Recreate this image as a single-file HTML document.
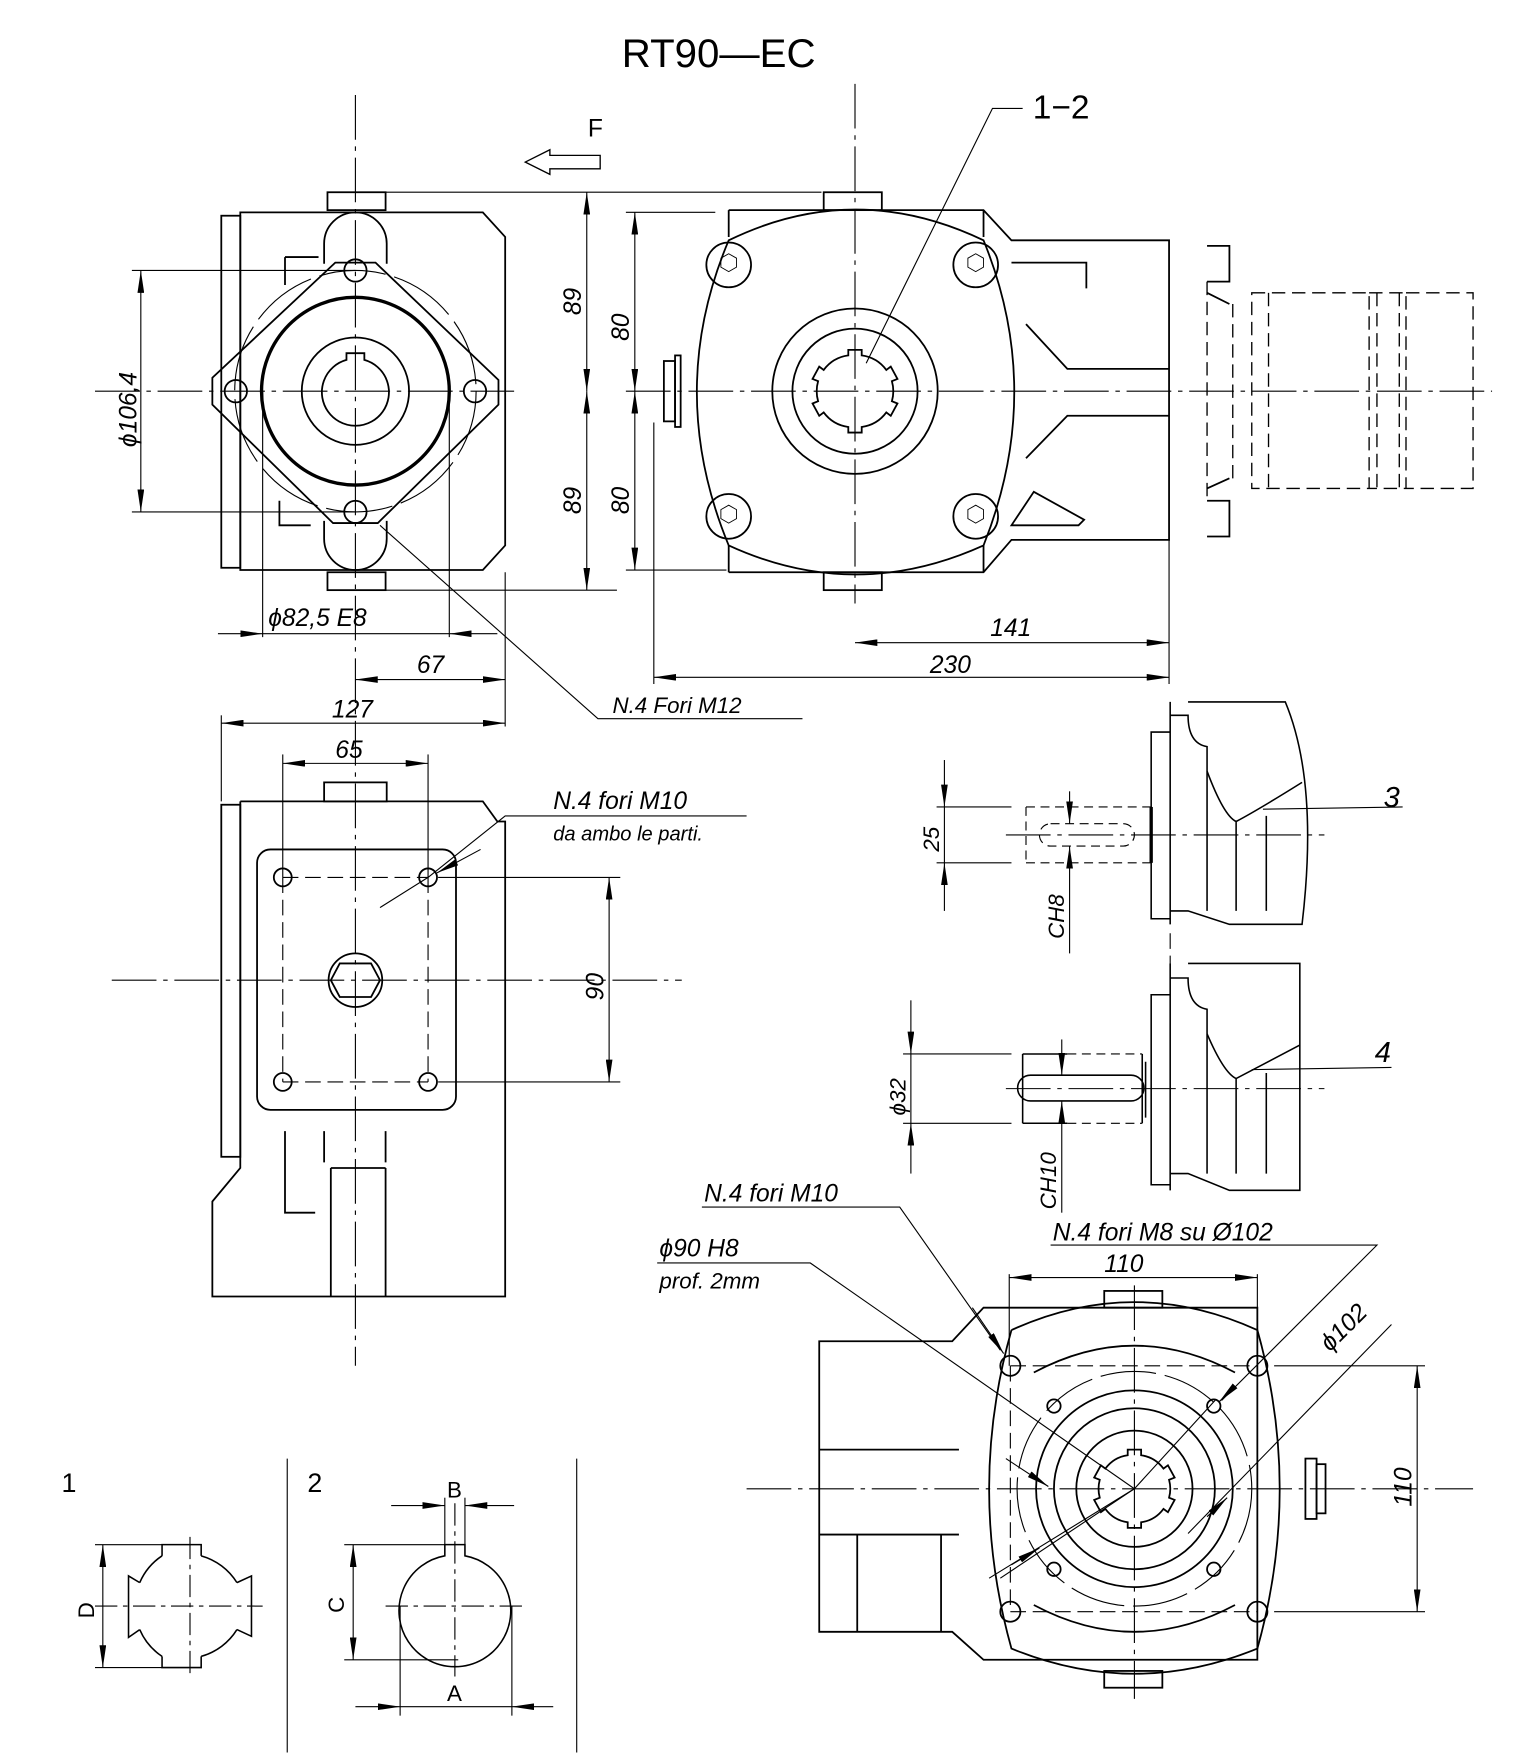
<!DOCTYPE html>
<html><head><meta charset="utf-8"><style>
html,body{margin:0;padding:0;background:#fff}
svg{display:block}
text{font-family:"Liberation Sans",sans-serif;fill:#000;font-style:italic}
</style></head><body>
<svg width="1520" height="1757" viewBox="0 0 1360 1572" preserveAspectRatio="none" xmlns="http://www.w3.org/2000/svg">
<defs>
<marker id="a" viewBox="0 0 20 6" refX="20" refY="3" markerWidth="20" markerHeight="6" orient="auto-start-reverse" markerUnits="userSpaceOnUse"><path d="M0,0 L20,3 L0,6 Z" fill="#000"/></marker>
</defs>
<g fill="none" stroke="#000" stroke-width="1">
<text x="643" y="60" font-size="36" text-anchor="middle" style="font-style:normal" stroke="none">RT90—EC</text>
<path d="M470,145 L492,134 L492,139 L537,139 L537,151 L492,151 L492,156 Z" stroke-width="1.2"/>
<text x="526" y="122" font-size="22" style="font-style:normal" stroke="none">F</text>

<!-- ===== LEFT TOP VIEW ===== -->
<line x1="318" y1="85" x2="318" y2="1222" stroke-dasharray="40,6,4,6"/>
<line x1="85" y1="350" x2="460" y2="350" stroke-dasharray="40,6,4,6"/>
<g stroke-width="1.6">
<rect x="198" y="193" width="17" height="315"/>
<path d="M215,190 L432,190 L452,212 L452,488 L432,510 L215,510 Z"/>
<rect x="293" y="172" width="52" height="16"/>
<rect x="293" y="512" width="52" height="16"/>
<path d="M290,236 L290,218 A28,28 0 0 1 346,218 L346,236"/>
<path d="M290,466 L290,482 A28,28 0 0 0 346,482 L346,466"/>
<path d="M300,235 L336,235 L446,340 L446,362 L338,468 L298,468 L190,362 L190,338 Z"/>
<path d="M255,230 L285,230 M255,230 L255,255 M250,448 L250,470 L278,470"/>
<circle cx="318" cy="350" r="84" stroke-width="3"/>
<circle cx="318" cy="350" r="48"/>
<path d="M310,316 L310,322 A30,30 0 1 0 326,322 L326,316 Z"/>
<circle cx="318" cy="242" r="10"/><circle cx="318" cy="458" r="10"/>
<circle cx="211" cy="350" r="10"/><circle cx="425" cy="350" r="10"/>
</g>
<circle cx="318" cy="350" r="108" stroke-dasharray="60,8"/>
<line x1="118" y1="242" x2="318" y2="242"/><line x1="118" y1="458" x2="318" y2="458"/>
<line x1="126" y1="242" x2="126" y2="458" marker-start="url(#a)" marker-end="url(#a)"/>
<text transform="translate(122,400) rotate(-90)" font-size="22" stroke="none">ϕ106,4</text>
<line x1="345" y1="172" x2="735" y2="172"/><line x1="345" y1="528" x2="552" y2="528"/>
<line x1="525" y1="172" x2="525" y2="350" marker-start="url(#a)" marker-end="url(#a)"/>
<line x1="525" y1="350" x2="525" y2="528" marker-start="url(#a)" marker-end="url(#a)"/>
<text transform="translate(520,282) rotate(-90)" font-size="22" stroke="none">89</text>
<text transform="translate(520,460) rotate(-90)" font-size="22" stroke="none">89</text>
<line x1="560" y1="190" x2="640" y2="190"/><line x1="560" y1="510" x2="650" y2="510"/>
<line x1="568" y1="190" x2="568" y2="350" marker-start="url(#a)" marker-end="url(#a)"/>
<line x1="568" y1="350" x2="568" y2="510" marker-start="url(#a)" marker-end="url(#a)"/>
<text transform="translate(563,305) rotate(-90)" font-size="22" stroke="none">80</text>
<text transform="translate(563,460) rotate(-90)" font-size="22" stroke="none">80</text>
<line x1="235" y1="350" x2="235" y2="570"/><line x1="402" y1="350" x2="402" y2="570"/>
<line x1="195" y1="567" x2="235" y2="567" marker-end="url(#a)"/>
<line x1="445" y1="567" x2="402" y2="567" marker-end="url(#a)"/>
<line x1="235" y1="567" x2="402" y2="567"/>
<text x="240" y="560" font-size="22" stroke="none">ϕ82,5  E8</text>
<line x1="452" y1="512" x2="452" y2="650"/>
<line x1="318" y1="608" x2="452" y2="608" marker-start="url(#a)" marker-end="url(#a)"/>
<text x="373" y="602" font-size="22" stroke="none">67</text>
<path d="M340,470 L535,643 L718,643"/>
<text x="548" y="638" font-size="20" stroke="none">N.4  Fori  M12</text>

<!-- ===== RIGHT TOP VIEW ===== -->
<line x1="765" y1="75" x2="765" y2="540" stroke-dasharray="40,6,4,6"/>
<line x1="560" y1="350" x2="1335" y2="350" stroke-dasharray="40,6,4,6"/>
<g stroke-width="1.6">
<rect x="737" y="172" width="52" height="16"/>
<rect x="737" y="512" width="52" height="16"/>
<path d="M652,188 L880,188 L905,215 L1046,215 L1046,483 L905,483 L880,512 L652,512"/>
<path d="M652,188 L652,212 M880,188 L880,212 M652,512 L652,488 M880,512 L880,488"/>
<path d="M652,215 Q765,160 880,215 Q935,350 880,488 Q765,540 652,488 Q595,350 652,215 Z"/>
<path d="M905,235 L972,235 L972,258"/>
<path d="M918,290 L955,330 L1046,330 M918,410 L955,372 L1046,372"/>
<path d="M905,470 L925,440 L970,465 L965,470 Z"/>
<rect x="594" y="323" width="10" height="54"/><rect x="604" y="318" width="5" height="64"/>
<circle cx="652" cy="237" r="20"/><circle cx="873" cy="237" r="20"/>
<circle cx="652" cy="462" r="20"/><circle cx="873" cy="462" r="20"/>
<circle cx="765" cy="350" r="74"/><circle cx="765" cy="350" r="56"/>
<path d="M759,313 L771,313 L771,318 A33,33 0 0 1 793,331 L797,328 L803,339 L798,341 A33,33 0 0 1 798,359 L803,361 L797,372 L793,369 A33,33 0 0 1 771,382 L771,387 L759,387 L759,382 A33,33 0 0 1 737,369 L733,372 L727,361 L732,359 A33,33 0 0 1 732,341 L727,339 L733,328 L737,331 A33,33 0 0 1 759,318 Z"/>
<path d="M1080,220 L1100,220 L1100,252 L1080,252 M1080,448 L1100,448 L1100,480 L1080,480 M1080,262 L1100,272 M1080,437 L1100,428"/>
</g>
<g stroke-width="0.8">
<path d="M645,231 l7,-4 l7,4 l0,8 l-7,4 l-7,-4 Z M866,231 l7,-4 l7,4 l0,8 l-7,4 l-7,-4 Z M645,456 l7,-4 l7,4 l0,8 l-7,4 l-7,-4 Z M866,456 l7,-4 l7,4 l0,8 l-7,4 l-7,-4 Z"/>
</g>
<g stroke-dasharray="12,6" stroke-width="1.2">
<path d="M1080,252 L1080,448 M1103,272 L1103,428 M1120,262 L1225,262 L1225,437 L1120,437 Z M1135,262 L1135,437 M1225,262 L1258,262 L1258,437 L1225,437 M1258,262 L1318,262 L1318,437 L1258,437 M1232,262 L1232,437 M1252,262 L1252,437"/>
</g>
<path d="M775,325 L888,97 L915,97"/>
<text x="924" y="106" font-size="30" style="font-style:normal" stroke="none">1−2</text>
<line x1="1046" y1="483" x2="1046" y2="612"/>
<line x1="585" y1="378" x2="585" y2="612"/>
<line x1="765" y1="575" x2="1046" y2="575" marker-start="url(#a)" marker-end="url(#a)"/>
<text x="886" y="569" font-size="22" stroke="none">141</text>
<line x1="585" y1="606" x2="1046" y2="606" marker-start="url(#a)" marker-end="url(#a)"/>
<text x="832" y="602" font-size="22" stroke="none">230</text>

<!-- ===== SIDE VIEW ===== -->
<line x1="100" y1="877" x2="610" y2="877" stroke-dasharray="40,6,4,6"/>
<g stroke-width="1.6">
<rect x="198" y="720" width="17" height="315"/>
<path d="M215,717 L432,717 L445,735 L452,735 L452,1160 L190,1160 L190,1075 L215,1045 L215,717"/>
<rect x="290" y="700" width="56" height="17"/>
<rect x="230" y="760" width="178" height="233" rx="12"/>
<circle cx="253" cy="785" r="8"/><circle cx="383" cy="785" r="8"/>
<circle cx="253" cy="968" r="8"/><circle cx="383" cy="968" r="8"/>
<circle cx="318" cy="877" r="24"/>
<path d="M304,862 L332,862 L340,877 L332,892 L304,892 L296,877 Z"/>
<path d="M255,1012 L255,1085 L282,1085 M290,1012 L290,1040 M345,1012 L345,1040"/>
<path d="M296,1045 L296,1160 M345,1045 L345,1160 M296,1045 L345,1045"/>
</g>
<path d="M253,785 L253,968 M383,785 L383,968 M253,785 L383,785 M253,968 L383,968" stroke-dasharray="14,6"/>
<line x1="198" y1="640" x2="198" y2="717"/><line x1="253" y1="675" x2="253" y2="785"/><line x1="383" y1="675" x2="383" y2="785"/>
<line x1="198" y1="647" x2="452" y2="647" marker-start="url(#a)" marker-end="url(#a)"/>
<text x="297" y="642" font-size="22" stroke="none">127</text>
<line x1="253" y1="683" x2="383" y2="683" marker-start="url(#a)" marker-end="url(#a)"/>
<text x="300" y="678" font-size="22" stroke="none">65</text>
<line x1="392" y1="785" x2="555" y2="785"/><line x1="392" y1="968" x2="555" y2="968"/>
<line x1="545" y1="785" x2="545" y2="968" marker-start="url(#a)" marker-end="url(#a)"/>
<text transform="translate(540,895) rotate(-90)" font-size="22" stroke="none">90</text>
<path d="M340,812 L383,785 M383,785 L452,730 L668,730" />
<line x1="430" y1="760" x2="391" y2="781" marker-end="url(#a)"/>
<text x="495" y="724" font-size="22" stroke="none">N.4  fori  M10</text>
<text x="495" y="752" font-size="18" stroke="none">da  ambo  le  parti.</text>

<!-- ===== SHAFT 3 ===== -->
<g stroke-width="1.4">
<path d="M1047,628 L1047,827 M1047,655 L1030,655 L1030,822 L1047,822" />
<path d="M1063,628 L1150,628 Q1180,700 1165,827 L1100,827 L1063,815 L1047,815 M1047,640 L1063,640 Q1063,665 1080,668 L1080,815"/>
<path d="M1080,690 Q1095,730 1106,735 Q1125,725 1165,700 M1106,735 L1106,815 M1133,730 L1133,815"/>
</g>
<path d="M918,722 L1030,722 M918,772 L1030,772 M918,722 L918,772 M940,737 L1005,737 A10,10 0 0 1 1005,757 L940,757 A10,10 0 0 1 940,737" stroke-dasharray="8,5"/>
<line x1="1030" y1="722" x2="1030" y2="772" stroke-width="3"/>
<line x1="838" y1="722" x2="905" y2="722"/><line x1="838" y1="772" x2="905" y2="772"/>
<line x1="845" y1="680" x2="845" y2="722" marker-end="url(#a)"/>
<line x1="845" y1="815" x2="845" y2="772" marker-end="url(#a)"/>
<line x1="845" y1="722" x2="845" y2="772"/>
<text transform="translate(840,762) rotate(-90)" font-size="20" stroke="none">25</text>
<line x1="957" y1="708" x2="957" y2="737" marker-end="url(#a)"/>
<line x1="957" y1="853" x2="957" y2="757" marker-end="url(#a)"/>
<text transform="translate(952,840) rotate(-90)" font-size="20" stroke="none">CH8</text>
<line x1="900" y1="747" x2="1185" y2="747" stroke-dasharray="40,6,4,6"/>
<line x1="1130" y1="724" x2="1255" y2="722"/>
<text x="1238" y="722" font-size="26" stroke="none">3</text>
<line x1="1047" y1="835" x2="1047" y2="862" stroke-dasharray="14,6"/>

<!-- ===== SHAFT 4 ===== -->
<g stroke-width="1.4">
<path d="M1047,862 L1047,1065 M1047,890 L1030,890 L1030,1060 L1047,1060" />
<path d="M1063,862 L1163,862 L1163,1065 L1100,1065 L1063,1050 L1047,1050 M1047,875 L1063,875 Q1063,900 1080,903 L1080,1050"/>
<path d="M1080,925 Q1095,960 1106,965 Q1125,955 1163,935 M1106,965 L1106,1050 M1133,960 L1133,1050"/>
<path d="M915,943 L955,943 M915,1005 L955,1005 M915,943 L915,1005 M922,962 L1012,962 A11,11 0 0 1 1012,985 L922,985 A11,11 0 0 1 922,962"/>
<path d="M1022,943 L1022,1005 M1025,950 L1025,1000"/>
</g>
<path d="M955,943 L1022,943 M955,1005 L1022,1005" stroke-dasharray="8,5"/>
<line x1="808" y1="943" x2="905" y2="943"/><line x1="808" y1="1005" x2="905" y2="1005"/>
<line x1="815" y1="895" x2="815" y2="943" marker-end="url(#a)"/>
<line x1="815" y1="1050" x2="815" y2="1005" marker-end="url(#a)"/>
<line x1="815" y1="943" x2="815" y2="1005"/>
<text transform="translate(810,998) rotate(-90)" font-size="20" stroke="none">ϕ32</text>
<line x1="950" y1="930" x2="950" y2="962" marker-end="url(#a)"/>
<line x1="950" y1="1085" x2="950" y2="985" marker-end="url(#a)"/>
<text transform="translate(945,1082) rotate(-90)" font-size="20" stroke="none">CH10</text>
<line x1="900" y1="974" x2="1185" y2="974" stroke-dasharray="40,6,4,6"/>
<line x1="1120" y1="957" x2="1245" y2="955"/>
<text x="1230" y="950" font-size="26" stroke="none">4</text>

<!-- ===== BOTTOM RIGHT VIEW ===== -->
<line x1="1015" y1="1150" x2="1015" y2="1520" stroke-dasharray="40,6,4,6"/>
<line x1="668" y1="1332" x2="1318" y2="1332" stroke-dasharray="40,6,4,6"/>
<g stroke-width="1.6">
<path d="M733,1200 L852,1200 L880,1170 L1125,1170 L1125,1485 L880,1485 L852,1460 L733,1460 Z"/>
<path d="M733,1297 L858,1297 M733,1373 L858,1373 M767,1373 L767,1460 M842,1373 L842,1460"/>
<path d="M905,1190 Q1015,1140 1125,1190 Q1165,1332 1125,1475 Q1015,1520 905,1475 Q865,1332 905,1190"/>
<path d="M925,1228 Q1015,1180 1105,1228 M925,1436 Q1015,1484 1105,1436"/>
<rect x="988" y="1155" width="52" height="15"/><rect x="988" y="1495" width="52" height="15"/>
<rect x="1168" y="1305" width="10" height="54"/><rect x="1178" y="1310" width="8" height="44"/>
<circle cx="1015" cy="1332" r="88"/><circle cx="1015" cy="1332" r="72"/><circle cx="1015" cy="1332" r="52"/>
<path d="M1009,1297 L1021,1297 L1021,1302 A30,30 0 0 1 1041,1314 L1045,1311 L1051,1322 L1046,1324 A30,30 0 0 1 1046,1340 L1051,1342 L1045,1353 L1041,1350 A30,30 0 0 1 1021,1362 L1021,1367 L1009,1367 L1009,1362 A30,30 0 0 1 989,1350 L985,1353 L979,1342 L984,1340 A30,30 0 0 1 984,1324 L979,1322 L985,1311 L989,1314 A30,30 0 0 1 1009,1302 Z"/>
<circle cx="904" cy="1222" r="9"/><circle cx="1125" cy="1222" r="9"/>
<circle cx="904" cy="1442" r="9"/><circle cx="1125" cy="1442" r="9"/>
<circle cx="943" cy="1258" r="6"/><circle cx="1086" cy="1258" r="6"/>
<circle cx="943" cy="1404" r="6"/><circle cx="1086" cy="1404" r="6"/>
</g>
<circle cx="1015" cy="1332" r="105" stroke-dasharray="50,8"/>
<path d="M904,1222 L1125,1222 M904,1442 L1125,1442 M904,1222 L904,1442 M1125,1222 L1125,1442" stroke-dasharray="14,6"/>
<line x1="903" y1="1140" x2="903" y2="1222"/><line x1="1125" y1="1140" x2="1125" y2="1222"/>
<line x1="903" y1="1143" x2="1125" y2="1143" marker-start="url(#a)" marker-end="url(#a)"/>
<text x="988" y="1138" font-size="22" stroke="none">110</text>
<line x1="1140" y1="1222" x2="1275" y2="1222"/><line x1="1140" y1="1442" x2="1275" y2="1442"/>
<line x1="1268" y1="1222" x2="1268" y2="1442" marker-start="url(#a)" marker-end="url(#a)"/>
<text transform="translate(1263,1348) rotate(-90)" font-size="22" stroke="none">110</text>
<path d="M628,1080 L805,1080 L895,1208" />
<line x1="870" y1="1170" x2="898" y2="1211" marker-end="url(#a)"/>
<text x="630" y="1075" font-size="22" stroke="none">N.4  fori  M10</text>
<path d="M588,1130 L725,1130 L1015,1332 L895,1412"/>
<line x1="900" y1="1305" x2="938" y2="1330" marker-end="url(#a)"/>
<line x1="1015" y1="1332" x2="1088" y2="1252"/>
<text x="590" y="1124" font-size="22" stroke="none">ϕ90   H8</text>
<text x="590" y="1153" font-size="20" stroke="none">prof.  2mm</text>
<path d="M940,1114 L1232,1114 L1093,1253"/>
<line x1="1105" y1="1240" x2="1091" y2="1254" marker-end="url(#a)"/>
<text x="942" y="1110" font-size="22" stroke="none">N.4  fori  M8  su  Ø102</text>
<path d="M1245,1185 L1063,1372 M1015,1332 L885,1412"/>
<line x1="1080" y1="1357" x2="1098" y2="1340" marker-end="url(#a)"/>
<line x1="905" y1="1400" x2="930" y2="1385" marker-end="url(#a)"/>
<text transform="translate(1190,1210) rotate(-45)" font-size="22" stroke="none">ϕ102</text>

<!-- ===== DETAILS 1 & 2 ===== -->
<text x="55" y="1335" font-size="24" style="font-style:normal" stroke="none">1</text>
<text x="275" y="1335" font-size="24" style="font-style:normal" stroke="none">2</text>
<line x1="257" y1="1305" x2="257" y2="1568"/>
<line x1="516" y1="1305" x2="516" y2="1568"/>
<path d="M145,1392 L145,1382 L180,1382 L180,1392 M212,1416 L225,1410 L225,1464 L212,1458 M180,1482 L180,1492 L145,1492 L145,1482 M125,1458 L115,1465 L115,1410 L125,1416" stroke-width="1.4"/>
<path d="M180,1392 A55,55 0 0 1 212,1416 M212,1458 A55,55 0 0 1 180,1482 M145,1482 A55,55 0 0 1 125,1458 M125,1416 A55,55 0 0 1 145,1392" stroke-width="1.4"/>
<line x1="170" y1="1375" x2="170" y2="1500" stroke-dasharray="20,5,4,5"/>
<line x1="85" y1="1437" x2="235" y2="1437" stroke-dasharray="20,5,4,5"/>
<line x1="85" y1="1382" x2="145" y2="1382"/><line x1="85" y1="1492" x2="145" y2="1492"/>
<line x1="92" y1="1382" x2="92" y2="1492" marker-start="url(#a)" marker-end="url(#a)"/>
<text transform="translate(84,1448) rotate(-90)" font-size="20" style="font-style:normal" stroke="none">D</text>
<path d="M398,1382 L398,1392 A50,50 0 1 0 416,1392 L416,1382 Z" stroke-width="1.4"/>
<line x1="407" y1="1345" x2="407" y2="1500" stroke-dasharray="20,5,4,5"/>
<line x1="345" y1="1437" x2="470" y2="1437" stroke-dasharray="20,5,4,5"/>
<line x1="398" y1="1340" x2="398" y2="1382"/><line x1="416" y1="1340" x2="416" y2="1382"/>
<line x1="350" y1="1347" x2="398" y2="1347" marker-end="url(#a)"/>
<line x1="460" y1="1347" x2="416" y2="1347" marker-end="url(#a)"/>
<text x="400" y="1340" font-size="20" style="font-style:normal" stroke="none">B</text>
<line x1="308" y1="1382" x2="398" y2="1382"/><line x1="308" y1="1485" x2="410" y2="1485"/>
<line x1="316" y1="1382" x2="316" y2="1485" marker-start="url(#a)" marker-end="url(#a)"/>
<text transform="translate(308,1443) rotate(-90)" font-size="20" style="font-style:normal" stroke="none">C</text>
<line x1="358" y1="1437" x2="358" y2="1535"/><line x1="458" y1="1437" x2="458" y2="1535"/>
<line x1="318" y1="1527" x2="358" y2="1527" marker-end="url(#a)"/>
<line x1="495" y1="1527" x2="458" y2="1527" marker-end="url(#a)"/>
<line x1="358" y1="1527" x2="458" y2="1527"/>
<text x="400" y="1522" font-size="20" style="font-style:normal" stroke="none">A</text>
</g>
</svg>
</body></html>
